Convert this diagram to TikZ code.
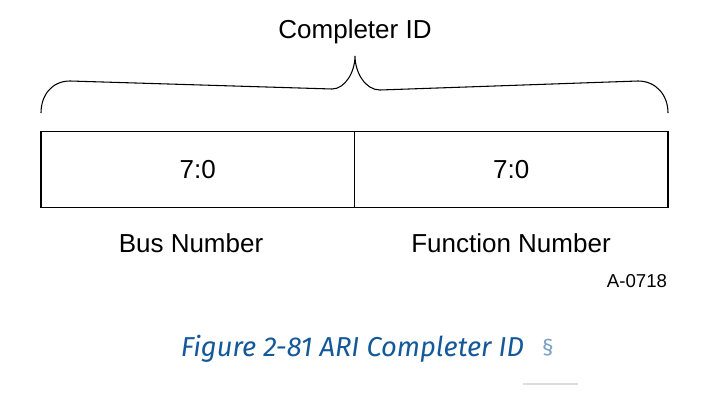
\documentclass[tikz,border=0pt]{standalone}
\usepackage{fontspec}
\setmainfont{Liberation Sans}
\newfontfamily\capfont{Fira Sans}
\definecolor{capblue}{HTML}{13599A}
\definecolor{secblue}{HTML}{7FA2C6}
\definecolor{rulegray}{HTML}{DDDDDD}
\begin{document}
\begin{tikzpicture}[x=0.75pt,y=-0.75pt,
  cell/.style={draw=black, line width=1.3pt, inner sep=0pt, minimum width=235.1pt, minimum height=57pt, font=\fontsize{19.5}{22}\selectfont},
  lbl/.style={inner sep=0pt, font=\fontsize{19.5}{22}\selectfont},
  tag/.style={inner sep=0pt, font=\fontsize{14}{16}\selectfont},
  bracepath/.style={draw=black, line width=0.8pt},
  caption/.style={inner sep=0pt, text=capblue, font=\capfont\itshape\fontsize{20.5}{24}\selectfont},
  secmark/.style={inner sep=0pt, text=secblue, font=\capfont\fontsize{17}{19}\selectfont}]
\path[use as bounding box] (0,0) rectangle (703,400);
% title
\node[lbl] (title) at (355,32) {Completer ID};
% brace
\coordinate (bl) at (41,113);
\coordinate (br) at (668,113);
\coordinate (tip) at (355,56);
\draw[bracepath] (bl) .. controls (41,95) and (52,81) .. (70,81)
  -- (332,89) .. controls (345,89) and (355,72) .. (tip)
  .. controls (355,72) and (365,90) .. (380,90)
  -- (638,81) .. controls (656,81) and (668,95) .. (br);
% register cells
\node[cell] (bus) at (197.75,169.5) {7:0};
\node[cell] (func) at (511.25,169.5) {7:0};
% field labels
\node[lbl] (buslbl) at (191,243) {Bus Number};
\node[lbl] (funclbl) at (511,243) {Function Number};
\node[tag] (code) at (637,281) {A-0718};
% caption
\node[caption] (cap) at (352.5,349) {Figure 2-81 ARI Completer ID};
\node[secmark] (sec) at (548,348) {§};
\coordinate (ra) at (523,384);
\coordinate (rb) at (578,384);
\draw[rulegray, line width=1.5pt] (ra) -- (rb);
\end{tikzpicture}
\end{document}
